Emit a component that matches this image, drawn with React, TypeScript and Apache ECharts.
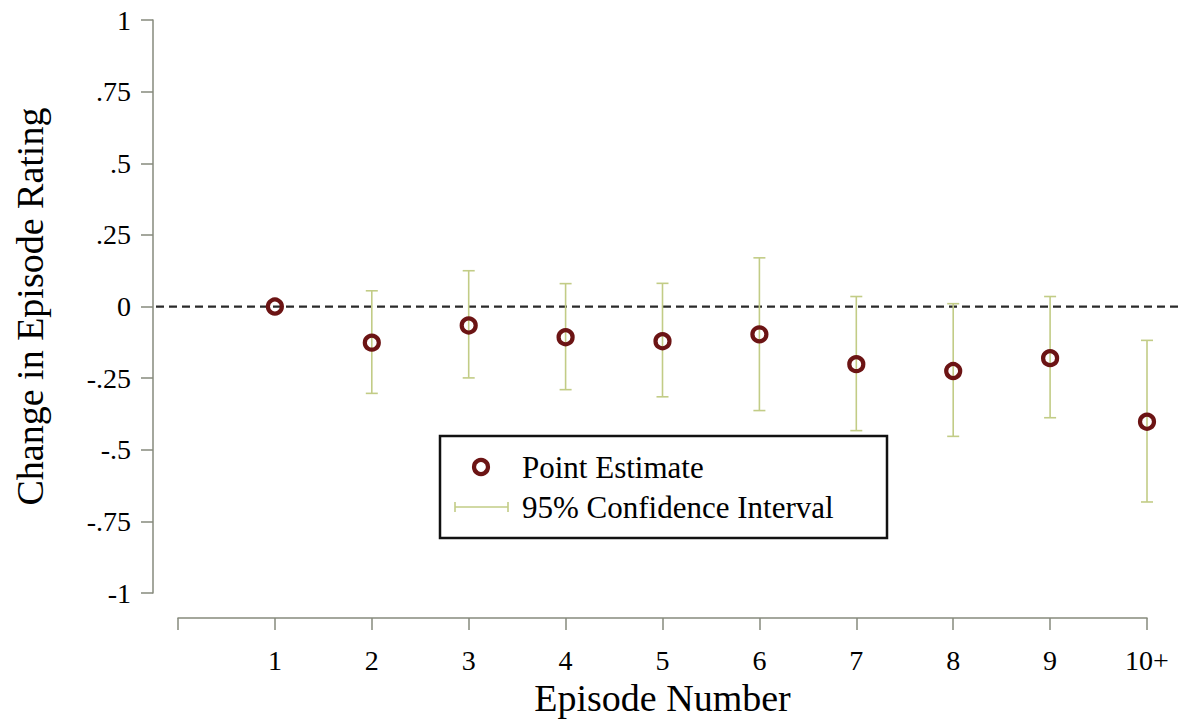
import React, { useEffect, useRef } from "react";
import * as echarts from "echarts";

const episodeLabels = ["1", "2", "3", "4", "5", "6", "7", "8", "9", "10+"];
const episodeX = [1, 2, 3, 4, 5, 6, 7, 8, 9, 10];
const pointEstimate = [0, -0.126, -0.066, -0.107, -0.121, -0.097, -0.201, -0.225, -0.18, -0.402];
const ciLow = [null, -0.303, -0.249, -0.29, -0.315, -0.363, -0.433, -0.453, -0.388, -0.682];
const ciHigh = [null, 0.055, 0.125, 0.08, 0.081, 0.17, 0.035, 0.01, 0.035, -0.118];
const yTicks = [-1, -0.75, -0.5, -0.25, 0, 0.25, 0.5, 0.75, 1];

const FONT = "'Liberation Serif', 'Times New Roman', serif";
const MARKER = "#6c1414";
const CI = "#c2cc86";
const AXIS = "#868a7c";

function fmtY(v: number): string {
  if (v === 0) return "0";
  if (v === 1) return "1";
  if (v === -1) return "-1";
  return String(v).replace("0.", ".");
}

export default function App() {
  const ref = useRef<HTMLDivElement>(null);
  useEffect(() => {
    document.body.style.margin = "0";
    const chart = echarts.init(ref.current!, null, { renderer: "svg" });
    const ciData = episodeX
      .map((x, i) => [x, ciLow[i], ciHigh[i]])
      .filter((d) => d[1] !== null);
    const ptData = episodeX.map((x, i) => [x, pointEstimate[i]]);
    chart.setOption({
      animation: false,
      backgroundColor: "#fff",
      grid: { left: 178, right: 34, top: 20, bottom: 125 },
      xAxis: {
        type: "value",
        min: 0,
        max: 10,
        interval: 1,
        offset: 25,
        name: "Episode Number",
        nameLocation: "middle",
        nameGap: 55,
        nameTextStyle: { fontFamily: FONT, fontSize: 38, color: "#000" },
        axisLine: { show: true, onZero: false, lineStyle: { color: AXIS, width: 1.5 } },
        axisTick: { show: true, length: 12, lineStyle: { color: AXIS, width: 1.5 } },
        axisLabel: {
          margin: 28,
          fontFamily: FONT,
          fontSize: 28,
          color: "#000",
          formatter: (v: number) => (v >= 1 ? episodeLabels[v - 1] : ""),
        },
        splitLine: { show: false },
      },
      yAxis: {
        type: "value",
        min: -1,
        max: 1,
        interval: 0.25,
        offset: 25,
        name: "Change in Episode Rating",
        nameLocation: "middle",
        nameGap: 104,
        nameTextStyle: { fontFamily: FONT, fontSize: 38, color: "#000" },
        axisLine: { show: true, onZero: false, lineStyle: { color: AXIS, width: 1.5 } },
        axisTick: { show: true, length: 12, lineStyle: { color: AXIS, width: 1.5 } },
        axisLabel: {
          margin: 22,
          fontFamily: FONT,
          fontSize: 28,
          color: "#000",
          formatter: (v: number) => (yTicks.includes(v) ? fmtY(v) : ""),
        },
        splitLine: { show: false },
      },
      series: [
        {
          type: "custom",
          name: "95% Confidence Interval",
          data: ciData,
          z: 2,
          renderItem: (params: any, api: any) => {
            const x = api.value(0);
            const top = api.coord([x, api.value(2)]);
            const bot = api.coord([x, api.value(1)]);
            const hw = 6;
            const style = { stroke: CI, lineWidth: 1.6 };
            return {
              type: "group",
              children: [
                { type: "line", shape: { x1: top[0], y1: top[1], x2: bot[0], y2: bot[1] }, style },
                { type: "line", shape: { x1: top[0] - hw, y1: top[1], x2: top[0] + hw, y2: top[1] }, style },
                { type: "line", shape: { x1: bot[0] - hw, y1: bot[1], x2: bot[0] + hw, y2: bot[1] }, style },
              ],
            };
          },
        },
        {
          type: "scatter",
          name: "Point Estimate",
          data: ptData,
          z: 4,
          symbol: "circle",
          symbolSize: 14,
          itemStyle: { color: "rgba(255,255,255,0)", borderColor: MARKER, borderWidth: 4.2, opacity: 1 },
        },
      ],
    });
    const y0 = chart.convertToPixel({ gridIndex: 0 }, [0, 0])[1];
    chart.setOption({
      graphic: [
        {
          type: "line",
          z: 1,
          shape: { x1: 156, y1: y0, x2: 1178, y2: y0 },
          style: { stroke: "#2a2a2a", lineWidth: 2.2, lineDash: [8, 5] },
        },
        {
          type: "rect",
          z: 10,
          shape: { x: 440, y: 436, width: 447, height: 102 },
          style: { fill: "#fff", stroke: "#111", lineWidth: 2.5 },
        },
        {
          type: "circle",
          z: 11,
          shape: { cx: 481, cy: 467, r: 7 },
          style: { fill: "rgba(255,255,255,0)", stroke: MARKER, lineWidth: 4.2 },
        },
        {
          type: "line",
          z: 11,
          shape: { x1: 455, y1: 507, x2: 508, y2: 507 },
          style: { stroke: CI, lineWidth: 1.6 },
        },
        {
          type: "line",
          z: 11,
          shape: { x1: 455, y1: 502, x2: 455, y2: 512 },
          style: { stroke: CI, lineWidth: 1.6 },
        },
        {
          type: "line",
          z: 11,
          shape: { x1: 508, y1: 502, x2: 508, y2: 512 },
          style: { stroke: CI, lineWidth: 1.6 },
        },
        {
          type: "text",
          z: 11,
          x: 522,
          y: 467,
          style: { text: "Point Estimate", font: `31px ${FONT}`, fill: "#000", verticalAlign: "middle" },
        },
        {
          type: "text",
          z: 11,
          x: 522,
          y: 507,
          style: { text: "95% Confidence Interval", font: `31px ${FONT}`, fill: "#000", verticalAlign: "middle" },
        },
      ],
    });
    return () => chart.dispose();
  }, []);
  return <div ref={ref} style={{ width: 1181, height: 722 }} />;
}
